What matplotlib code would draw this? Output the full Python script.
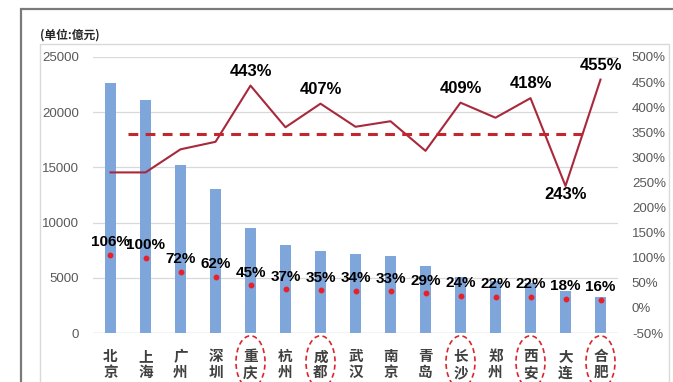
import matplotlib
matplotlib.use("Agg")
import matplotlib.pyplot as plt
from matplotlib.patches import Ellipse, Rectangle
from matplotlib.transforms import blended_transform_factory

plt.rcParams['font.family'] = ['Liberation Sans', 'Noto Sans CJK SC', 'DejaVu Sans']

# cities, deposit balance (亿元), ratio dots and line series
cities = ['北京', '上海', '广州', '深圳', '重庆', '杭州', '成都', '武汉',
          '南京', '青岛', '长沙', '郑州', '西安', '大连', '合肥']
balance = [22600, 21100, 15200, 13050, 9550, 7950, 7430, 7180,
           7000, 6070, 5100, 4700, 4550, 3800, 3290]
ratio = [106, 100, 72, 62, 45, 37, 35, 34, 33, 29, 24, 22, 22, 18, 16]
growth = [270, 270, 316, 331, 443, 360, 407, 361, 372, 313, 409, 379, 418, 243, 455]
growth_labeled = ['重庆', '成都', '长沙', '西安', '合肥']
growth_below = ['大连']
avg_level = 346
avg_span = (0.5, 13.7)
circled = ['重庆', '成都', '长沙', '西安', '合肥']

left_ticks = [0, 5000, 10000, 15000, 20000, 25000]
right_ticks = [-50, 0, 50, 100, 150, 200, 250, 300, 350, 400, 450, 500]

W, H = 673, 382
fig = plt.figure(figsize=(W / 100, H / 100), dpi=100)
fig.patch.set_facecolor('white')

# frames around the chart
fig.add_artist(Rectangle((21 / W, -0.05), 1.1, 1 - 9 / H + 0.05,
                         transform=fig.transFigure, fill=False,
                         edgecolor='#7a7a7a', lw=1.6))
fig.add_artist(Rectangle((40 / W, -0.05), (669 - 40) / W, 1 - 44 / H + 0.05,
                         transform=fig.transFigure, fill=False,
                         edgecolor='#d9d9d9', lw=1.0))

ax = fig.add_axes([93 / W, 49 / H, 525 / W, 276 / H])
ax2 = ax.twinx()

x = list(range(len(cities)))
ax.bar(x, balance, width=0.29, color='#7ea6db', zorder=2)
ax.set_xlim(-0.5, len(cities) - 0.5)
ax.set_ylim(0, 25000)
ax.set_yticks(left_ticks)
ax.set_yticklabels([str(v) for v in left_ticks])
ax.grid(axis='y', color='#d9d9d9', lw=0.9, zorder=0)
ax.set_axisbelow(True)
for s in ax.spines.values():
    s.set_visible(False)
for s in ax2.spines.values():
    s.set_visible(False)
ax.axhline(0, color='#d9d9d9', lw=1.0, zorder=1)

ax.set_xticks(x)
ax.set_xticklabels(['\n'.join(c) for c in cities], fontsize=10.5,
                   fontweight='bold', color='#404040', linespacing=1.0,
                   family=['Noto Sans CJK SC', 'DejaVu Sans'])
ax.tick_params(axis='x', length=0, pad=11)
ax.tick_params(axis='y', length=0, pad=10, labelsize=9.5, labelcolor='#595959')

ax2.set_ylim(-50, 500)
ax2.set_yticks(right_ticks)
ax2.set_yticklabels([f'{v}%' for v in right_ticks])
ax2.tick_params(axis='y', length=0, pad=10, labelsize=9.5, labelcolor='#595959')

# growth line and its average
ax2.plot(x, growth, color='#a8283c', lw=1.5, zorder=3)
ax2.hlines(avg_level, avg_span[0], avg_span[1], colors='#c1272d', lw=2.2,
           linestyles=(0, (3.2, 2.4)), zorder=3)
for i, c in enumerate(cities):
    if c in growth_labeled:
        ax2.annotate(f'{growth[i]}%', (i, growth[i]), xytext=(0, 5),
                     textcoords='offset points', ha='center', va='bottom',
                     fontsize=12, fontweight='bold', color='black')
    elif c in growth_below:
        ax2.annotate(f'{growth[i]}%', (i, growth[i]), xytext=(0, -1),
                     textcoords='offset points', ha='center', va='top',
                     fontsize=12, fontweight='bold', color='black')

# ratio dots with labels
ax2.plot(x, ratio, 'o', color='#e8202a', ms=3.2, zorder=4)
for i, v in enumerate(ratio):
    ax2.annotate(f'{v}%', (i, v), xytext=(0, 4), textcoords='offset points',
                 ha='center', va='bottom', fontsize=11, fontweight='bold',
                 color='black', zorder=5)

# dashed circles around highlighted cities
tr = blended_transform_factory(ax.transData, ax.transAxes)
for i, c in enumerate(cities):
    if c in circled:
        ax.add_patch(Ellipse((i, -0.105), 0.83, 0.19, transform=tr,
                             fill=False, edgecolor='#d9262e', lw=1.2,
                             ls=(0, (3, 2)), clip_on=False))

fig.text(40 / W, 1 - 35 / H, '(单位:億元)', fontsize=8.5, fontweight='bold',
         color='#262626', va='center', ha='left',
         family=['Noto Sans CJK SC', 'DejaVu Sans'])

fig.savefig('out.png', dpi=100)
